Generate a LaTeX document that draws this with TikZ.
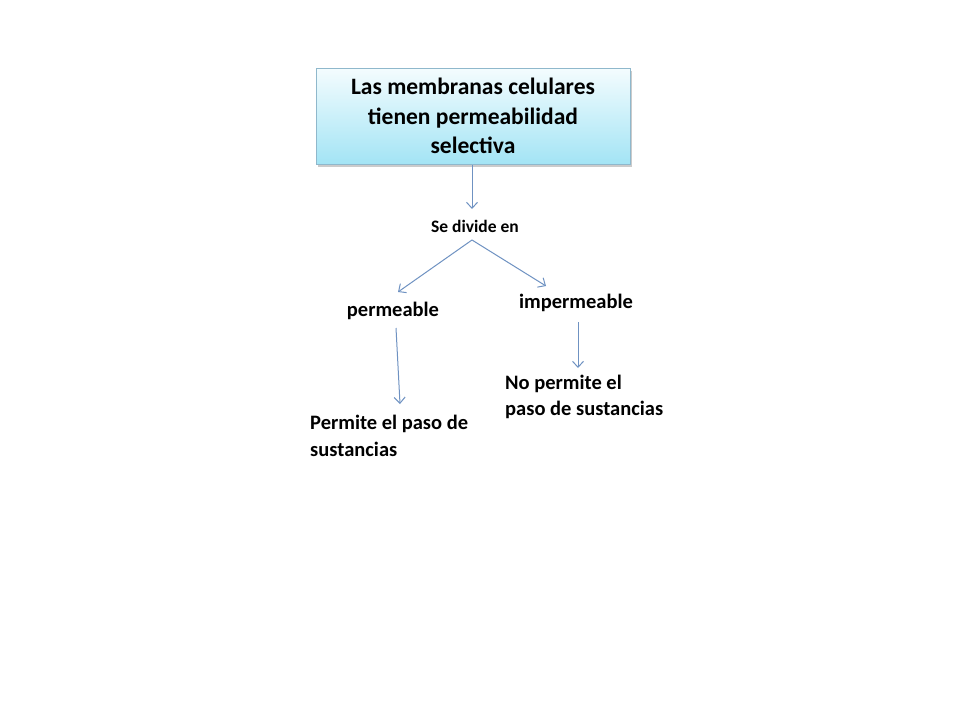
\documentclass[tikz,border=0pt]{standalone}
\usepackage{fontspec}
\setmainfont{Carlito}
\usetikzlibrary{arrows.meta,shadows,calc}
\definecolor{arrblue}{HTML}{6F92C2}
\definecolor{boxtop}{HTML}{F4FCFE}
\definecolor{boxbot}{HTML}{A3E4F5}
\definecolor{boxline}{HTML}{8FB8CC}
\tikzset{
  arr/.style={draw=arrblue, line width=1pt, -{Straight Barb[length=6pt,width=11pt,line width=1pt]}},
  titlebox/.style={draw=boxline, line width=0.8pt, top color=boxtop, bottom color=boxbot,
    minimum width=314pt, minimum height=96pt, align=center, inner sep=0pt,
    font=\bfseries\fontsize{23.5}{29.5}\selectfont,
    drop shadow={shadow xshift=1.5pt, shadow yshift=-2.5pt, fill=black!40, opacity=0.5}},
  lbl/.style={font=\bfseries\fontsize{20.5}{26.5}\selectfont, inner sep=2pt},
  small/.style={font=\bfseries\fontsize{17.5}{20}\selectfont, inner sep=2pt},
}
\begin{document}
\begin{tikzpicture}[x=1pt,y=-1pt]
\useasboundingbox (0,0) rectangle (960,720);
\fill[white] (0,0) rectangle (960,720);
\node[titlebox] (title) at (473,116) {Las membranas celulares\\tienen permeabilidad\\selectiva};
\node[small] (sedivide) at (475,226) {Se divide en};
\node[lbl] (perm) at (393,311) {permeable};
\node[lbl] (imperm) at (576,303) {impermeable};
\node[lbl, align=left, anchor=west] (permite) at (308,436) {Permite el paso de\\sustancias};
\node[lbl, align=left, anchor=west] (nopermite) at (503,397) {No permite el\\paso de sustancias};
\draw[arr] ($(title.south)+(-1,1)$) -- ($(sedivide.center)+(-3,-17)$);
\draw[arr] ($(sedivide.center)+(-3,14)$) -- ($(perm.center)+(5,-19)$);
\draw[arr] ($(sedivide.center)+(-3,14)$) -- ($(imperm.center)+(-30,-17)$);
\draw[arr] ($(perm.center)+(3,17)$) -- ($(permite.west)+(92,-32)$);
\draw[arr] ($(imperm.center)+(2,19)$) -- ($(nopermite.west)+(75,-29)$);
\end{tikzpicture}
\end{document}
